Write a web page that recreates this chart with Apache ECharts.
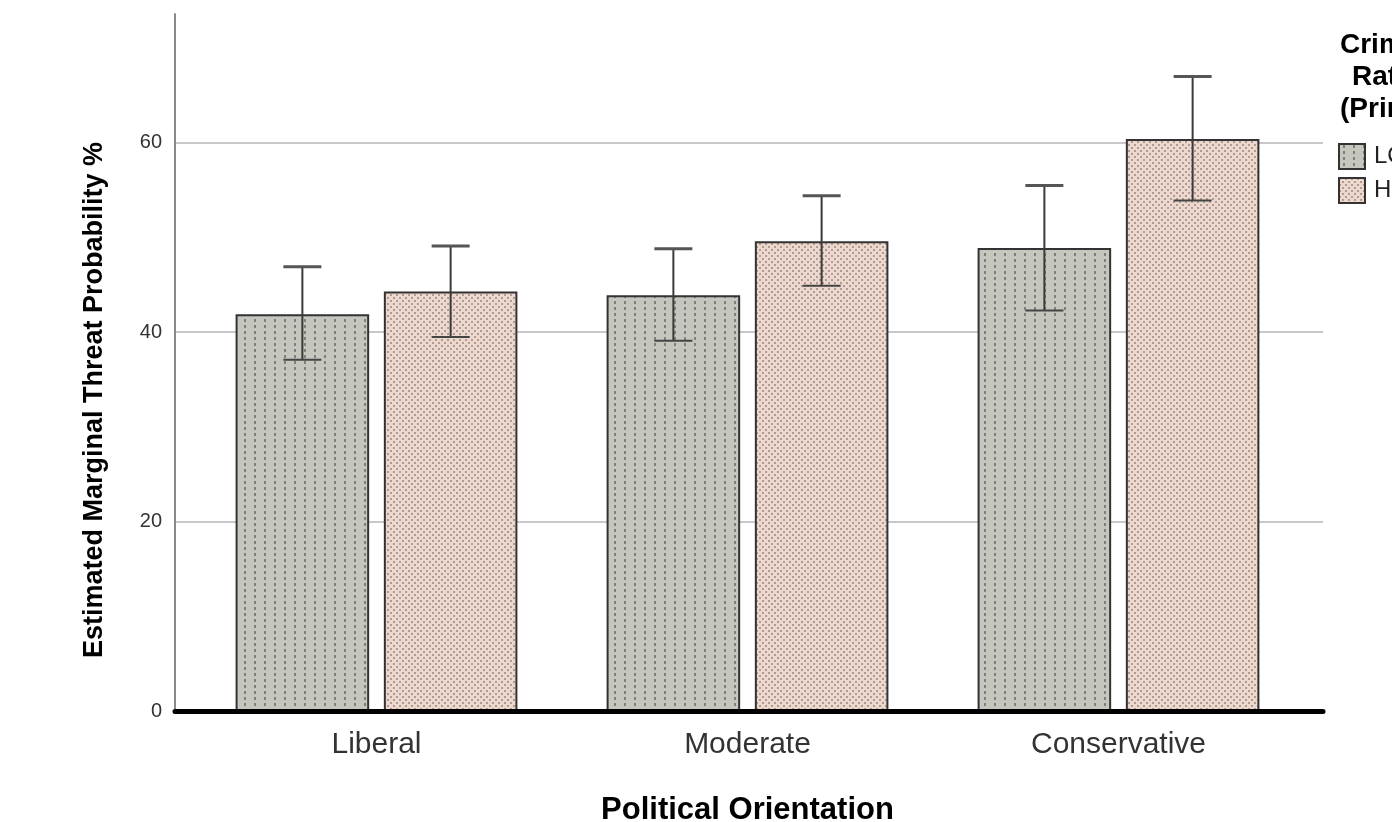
<!DOCTYPE html>
<html>
<head>
<meta charset="utf-8">
<script src="https://cdn.jsdelivr.net/npm/echarts@6/dist/echarts.min.js"></script>
<style>
html,body{margin:0;padding:0;background:#fff;}
#chart{width:1392px;height:822px;}
</style>
</head>
<body>
<div id="chart"></div>
<script>
var categories = ['Liberal', 'Moderate', 'Conservative'];
var seriesNames = ['LOW', 'HIGH'];
var lowMean = [41.9, 43.9, 48.9];
var lowLower = [37.1, 39.1, 42.3];
var lowUpper = [46.9, 48.8, 55.5];
var highMean = [44.3, 49.6, 60.4];
var highLower = [39.5, 44.9, 53.9];
var highUpper = [49.1, 54.4, 67.0];
var yTicks = [0, 20, 40, 60];
var yMax = 73.6;

// fill patterns like the spss chart
function makeLowPattern() {
  var c = document.createElement('canvas');
  c.width = 10; c.height = 6;
  var g = c.getContext('2d');
  g.fillStyle = '#c5c6bd';
  g.fillRect(0, 0, 10, 6);
  g.fillStyle = '#7f807a';
  g.fillRect(4, 1, 2, 3);
  return c;
}
function makeHighPattern() {
  var c = document.createElement('canvas');
  c.width = 6; c.height = 6;
  var g = c.getContext('2d');
  g.fillStyle = '#ecd8ce';
  g.fillRect(0, 0, 6, 6);
  g.fillStyle = '#b39a8f';
  g.fillRect(0, 0, 2, 2);
  g.fillRect(3, 3, 2, 2);
  return c;
}
var lowFill = { image: makeLowPattern(), repeat: 'repeat' };
var highFill = { image: makeHighPattern(), repeat: 'repeat' };

var barW = 0.36, barGapRatio = 0.11;

function errData(lower, upper) {
  var out = [];
  for (var i = 0; i < categories.length; i++) out.push([i, lower[i], upper[i]]);
  return out;
}

function errorRender(side) {
  return function (params, api) {
    var band = api.size([1, 0])[0];
    var off = side * band * (barW + barW * barGapRatio) / 2;
    var lo = api.coord([api.value(0), api.value(1)]);
    var hi = api.coord([api.value(0), api.value(2)]);
    var x = lo[0] + off;
    var cap = 19;
    var st = { stroke: '#3a3a3a', lineWidth: 2 };
    return {
      type: 'group',
      children: [
        { type: 'line', shape: { x1: x, y1: lo[1], x2: x, y2: hi[1] }, style: st },
        { type: 'line', shape: { x1: x - cap, y1: hi[1], x2: x + cap, y2: hi[1] }, style: { stroke: '#555', lineWidth: 3 } },
        { type: 'line', shape: { x1: x - cap, y1: lo[1], x2: x + cap, y2: lo[1] }, style: { stroke: '#444', lineWidth: 2 } }
      ]
    };
  };
}

var myChart = echarts.init(document.getElementById('chart'));
var option = {
  animation: false,
  grid: [
    { left: 175, right: 69, top: 14, bottom: 111, outerBoundsMode: 'none', containLabel: false },
    { left: 191, right: 88, top: 14, bottom: 111, outerBoundsMode: 'none', containLabel: false }
  ],
  legend: {
    orient: 'vertical',
    left: 1333,
    top: 138,
    itemWidth: 26,
    itemHeight: 25,
    itemGap: 7,
    icon: 'rect',
    data: seriesNames,
    textStyle: { fontFamily: 'Liberation Sans, Arial', fontSize: 24, color: '#222', padding: [0, 0, 0, 4] }
  },
  graphic: [
    { type: 'text', left: 1340, top: 31, style: { text: 'Crime', font: 'bold 28px "Liberation Sans", Arial', fill: '#000' } },
    { type: 'text', left: 1352, top: 63, style: { text: 'Rate', font: 'bold 28px "Liberation Sans", Arial', fill: '#000' } },
    { type: 'text', left: 1340, top: 95, style: { text: '(Prime)', font: 'bold 28px "Liberation Sans", Arial', fill: '#000' } },
    {
      type: 'text', x: 95, y: 400, rotation: Math.PI / 2,
      style: { text: 'Estimated Marginal Threat Probability %', font: 'bold 27px "Liberation Sans", Arial', fill: '#000', align: 'center', verticalAlign: 'middle' }
    }
  ],
  xAxis: [
    {
      gridIndex: 0, type: 'value', min: 0, max: 1, show: true, z: 10,
      axisLine: { show: true, onZero: false, lineStyle: { color: '#000', width: 5 } },
      axisTick: { show: false }, axisLabel: { show: false }, splitLine: { show: false }
    },
    {
      gridIndex: 1, type: 'category', data: categories,
      axisLine: { show: false }, axisTick: { show: false },
      axisLabel: { fontFamily: 'Liberation Sans, Arial', fontSize: 30, color: '#333', margin: 19 },
      name: 'Political Orientation', nameLocation: 'middle', nameGap: 84,
      nameTextStyle: { fontFamily: 'Liberation Sans, Arial', fontSize: 31, fontWeight: 'bold', color: '#000' }
    }
  ],
  yAxis: [
    {
      gridIndex: 0, type: 'value', min: 0, max: yMax, interval: 20,
      axisLine: { show: true, lineStyle: { color: '#8a8a8a', width: 2 } },
      axisTick: { show: false },
      axisLabel: {
        fontFamily: 'Liberation Sans, Arial', fontSize: 20, color: '#333', margin: 13,
        formatter: function (v) { return yTicks.indexOf(v) >= 0 ? String(v) : ''; }
      },
      splitLine: { show: true, lineStyle: { color: ['#c8c8c8', '#c8c8c8', '#c8c8c8', '#c8c8c8', 'rgba(0,0,0,0)'], width: 2 } }
    },
    {
      gridIndex: 1, type: 'value', min: 0, max: yMax, show: false
    }
  ],
  series: [
    {
      name: 'LOW', type: 'bar', xAxisIndex: 1, yAxisIndex: 1,
      barWidth: (barW * 100) + '%', barGap: (barGapRatio * 100) + '%',
      data: lowMean,
      itemStyle: { color: lowFill, borderColor: '#333', borderWidth: 2 }
    },
    {
      name: 'HIGH', type: 'bar', xAxisIndex: 1, yAxisIndex: 1,
      barWidth: (barW * 100) + '%', barGap: (barGapRatio * 100) + '%',
      data: highMean,
      itemStyle: { color: highFill, borderColor: '#333', borderWidth: 2 }
    },
    {
      type: 'custom', xAxisIndex: 1, yAxisIndex: 1, z: 5,
      renderItem: errorRender(-1), data: errData(lowLower, lowUpper)
    },
    {
      type: 'custom', xAxisIndex: 1, yAxisIndex: 1, z: 5,
      renderItem: errorRender(1), data: errData(highLower, highUpper)
    }
  ]
};
myChart.setOption(option);
</script>
</body>
</html>
